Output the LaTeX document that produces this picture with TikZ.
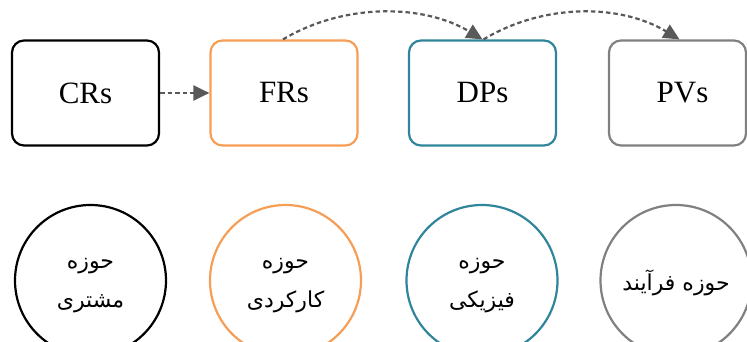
\documentclass[tikz,border=0pt]{standalone}
\usepackage{fontspec}
\setmainfont{Liberation Serif}
\newfontfamily\arabicfont[Script=Arabic]{DejaVu Sans}
\TeXXeTstate=1
\usetikzlibrary{arrows.meta}

\definecolor{crcol}{RGB}{0,0,0}
\definecolor{frcol}{RGB}{247,158,86}
\definecolor{dpcol}{RGB}{49,133,155}
\definecolor{pvcol}{RGB}{128,128,128}
\definecolor{linkcol}{RGB}{89,89,89}

\tikzset{
  domainbox/.style={draw, line width=2.2pt, rounded corners=12pt,
    minimum width=147pt, minimum height=105pt, inner sep=0pt,
    font=\fontsize{31}{34}\selectfont},
  domaincircle/.style={draw, circle, line width=2.2pt, minimum size=151pt,
    inner sep=0pt},
  domainlabel/.style={align=center, inner sep=0pt,
    font=\arabicfont\fontsize{22}{39}\selectfont},
  link/.style={draw=linkcol, line width=2.2pt, dash pattern=on 4.5pt off 3pt,
    -{Triangle[length=16pt,width=15pt,fill=linkcol]}},
}

\begin{document}
\begin{tikzpicture}[x=1pt,y=-1pt]
  \useasboundingbox (0,0) rectangle (747,342);
  \clip (0,0) rectangle (747,342);

  % requirement / parameter boxes
  \node[domainbox, draw=crcol] (cr) at (85.5,93) {CRs};
  \node[domainbox, draw=frcol] (fr) at (284,93) {FRs};
  \node[domainbox, draw=dpcol] (dp) at (482.5,93) {DPs};
  \node[domainbox, draw=pvcol, minimum width=137pt] (pv) at (677.5,93) {\hspace{10pt}PVs};

  % domains
  \node[domaincircle, draw=crcol] (cd) at (90.5,280.5) {};
  \node[domaincircle, draw=frcol] (fd) at (285.5,280.5) {};
  \node[domaincircle, draw=dpcol] (dd) at (482,280.5) {};
  \node[domaincircle, draw=pvcol] (pd) at (676,280.5) {};
  \node[domainlabel] (cdl) at ([yshift=-5pt]cd.center)
    {\beginR حوزه\endR\\\beginR مشتری\endR};
  \node[domainlabel] (fdl) at ([yshift=-5pt]fd.center)
    {\beginR حوزه\endR\\\beginR کارکردی\endR};
  \node[domainlabel] (ddl) at ([yshift=-5pt]dd.center)
    {\beginR حوزه\endR\\\beginR فیزیکی\endR};
  \node[domainlabel] (pdl) at ([yshift=-2pt]pd.center)
    {\beginR حوزه فرآیند\endR};

  % mappings
  \draw[link] (cr.east) -- (fr.west);
  \coordinate (frtop) at ([xshift=-1pt]fr.north);
  \coordinate (dpout) at ([xshift=1pt]dp.north);
  \coordinate (pvtop) at ([xshift=2pt]pv.north);
  \draw[link] (frtop) .. controls +(60,-36) and +(-60,-36) .. (dp.north);
  \draw[link] (dpout) .. controls +(60,-36) and +(-60,-36) .. (pvtop);
\end{tikzpicture}
\end{document}
